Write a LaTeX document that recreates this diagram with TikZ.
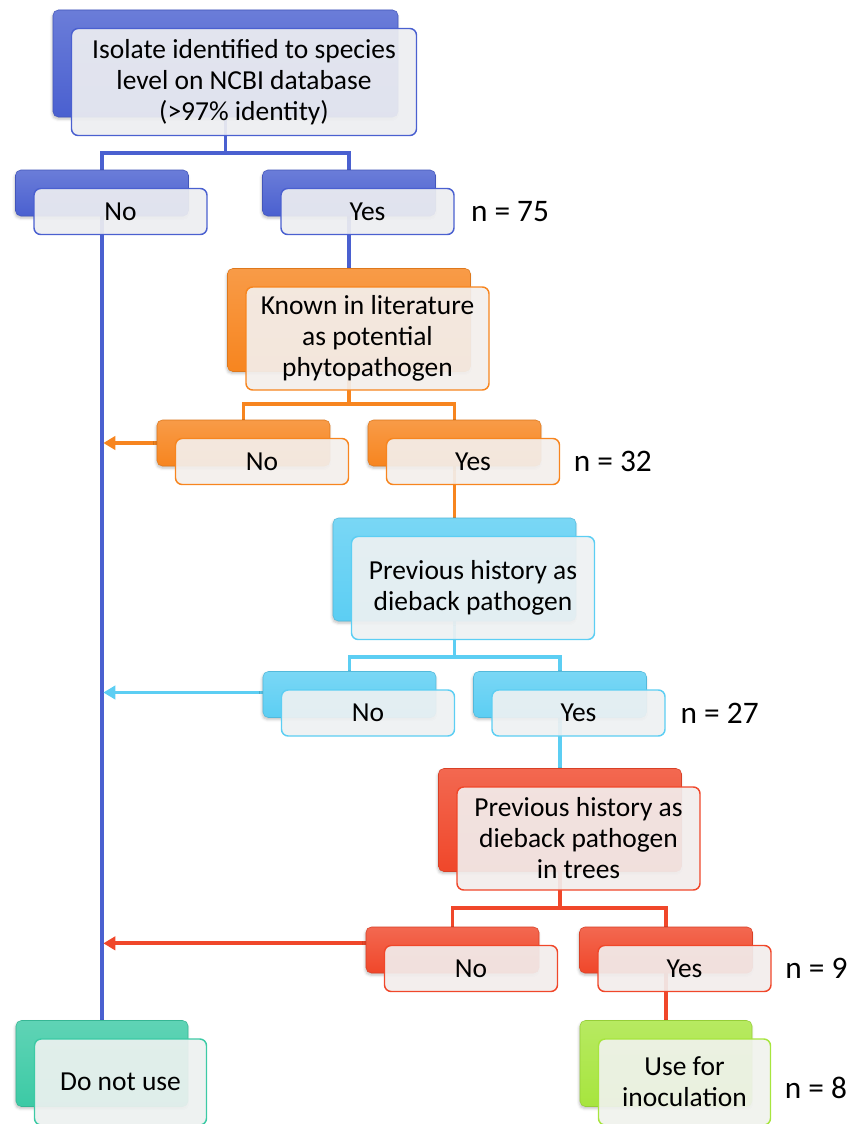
\documentclass[tikz,border=0pt]{standalone}
\usepackage{fontspec}
\setmainfont{Carlito}
\usepackage{xcolor}
\usetikzlibrary{arrows.meta, positioning, backgrounds, shadows.blur}
\definecolor{stepblue}{HTML}{4A60D0}
\definecolor{steporange}{HTML}{F7851F}
\definecolor{stepcyan}{HTML}{5CCEF3}
\definecolor{stepred}{HTML}{F0472A}
\definecolor{stepteal}{HTML}{3CCAA5}
\definecolor{stepgreen}{HTML}{A7E53E}
\newcommand\boxfont{\fontsize{20.6}{23.25}\selectfont}
\newcommand\countfont{\fontsize{23.5}{26}\selectfont}

\tikzset{
  backbox/.style={rounded corners=4pt, draw=#1!90!black, line width=0.4pt,
    top color=#1!82!white, bottom color=#1,
    blur shadow={shadow xshift=-0.5pt, shadow yshift=-1.5pt,
                 shadow blur radius=2pt, shadow opacity=25}},
  frontbox/.style={rounded corners=5pt, draw=#1, line width=1.1pt,
    fill=#1!40!black!8!white, fill opacity=0.92, text opacity=1,
    align=center, font=\boxfont},
  bigbox/.style={minimum width=258.75pt, minimum height=80.25pt, inner sep=0pt},
  midbox/.style={minimum width=182.25pt, minimum height=77.25pt, inner sep=0pt},
  smallbox/.style={minimum width=129.75pt, minimum height=34.5pt, inner sep=0pt},
  endbox/.style={minimum width=129pt, minimum height=64.5pt, inner sep=0pt},
  link/.style={draw=#1, line width=2.8pt},
  tip/.style={-{Triangle[length=9pt, width=10pt]}, shorten >=1pt},
  count/.style={font=\countfont, inner sep=2pt}
}

\begin{document}
\begin{tikzpicture}[x=0.75pt, y=-0.75pt]
  \useasboundingbox (0,0) rectangle (852,1124);

  % question boxes
  \node[backbox=stepblue, bigbox] (q1-b) at (225.5,63.5) {};
  \node[frontbox=stepblue, bigbox] (q1) at ([shift={(18.5,18.5)}]q1-b)
    {Isolate identified to species\\level on NCBI database\\(>97\% identity)};
  \node[backbox=steporange, midbox] (q2-b) at (349,320) {};
  \node[frontbox=steporange, midbox] (q2) at ([shift={(18.5,18.5)}]q2-b)
    {Known in literature\\as potential\\phytopathogen};
  \node[backbox=stepcyan, midbox] (q3-b) at (454.5,569.5) {};
  \node[frontbox=stepcyan, midbox] (q3) at ([shift={(18.5,18.5)}]q3-b)
    {Previous history as\\dieback pathogen};
  \node[backbox=stepred, midbox] (q4-b) at (560,820) {};
  \node[frontbox=stepred, midbox] (q4) at ([shift={(18.5,18.5)}]q4-b)
    {Previous history as\\dieback pathogen\\in trees};

  % answers
  \foreach \nm/\col/\x/\y/\txt in {n1/stepblue/102/193/No, y1/stepblue/349/193/Yes,
      n2/steporange/243.5/443/No, y2/steporange/454.5/443/Yes,
      n3/stepcyan/349.5/694.5/No, y3/stepcyan/560/694.5/Yes,
      n4/stepred/452.5/950/No, y4/stepred/666/950/Yes}{
    \node[backbox=\col, smallbox] (\nm-b) at (\x,\y) {};
    \node[frontbox=\col, smallbox] (\nm) at ([shift={(18.5,18.5)}]\nm-b) {\txt};
  }

  % outcomes
  \node[backbox=stepteal, endbox] (skip-b) at (102,1063.5) {};
  \node[frontbox=stepteal, endbox] (skip) at ([shift={(18.5,18.5)}]skip-b) {Do not use};
  \node[backbox=stepgreen, endbox] (use-b) at (666,1063.5) {};
  \node[frontbox=stepgreen, endbox] (use) at ([shift={(18.5,18.5)}]use-b)
    {Use for\\inoculation};

  \node[count, anchor=west, right=10pt of y1] (c1) {n = 75};
  \node[count, anchor=west, right=8pt of y2] (c2) {n = 32};
  \node[count, anchor=west, right=9pt of y3] (c3) {n = 27};
  \node[count, anchor=west, right=8pt of y4] (c4) {n = 9};
  \node[count, anchor=west, right=8pt of use, yshift=-4.5pt] (c5) {n = 8};

  \begin{scope}[on background layer]
    \draw[link=stepblue] (q1-b.south) -- ++(0,36) coordinate (j1);
    \draw[link=stepblue] (n1-b.north) |- (j1) -| (y1-b.north);
    \draw[link=stepblue] (n1-b.south) -- (skip-b.north);
    \draw[link=stepblue] (y1-b.south) -- (q2-b.north);

    \draw[link=steporange] (q2-b.south) -- ++(0,32) coordinate (j2);
    \draw[link=steporange] (n2-b.north) |- (j2) -| (y2-b.north);
    \draw[link=steporange, tip] (n2-b.west) -- (n2-b.west -| n1-b.south);
    \draw[link=steporange] (y2-b.south) -- (q3-b.north);

    \draw[link=stepcyan] (q3-b.south) -- ++(0,36) coordinate (j3);
    \draw[link=stepcyan] (n3-b.north) |- (j3) -| (y3-b.north);
    \draw[link=stepcyan, tip] ([yshift=1.5pt]n3-b.west) -- ([yshift=1.5pt]n3-b.west -| n1-b.south);
    \draw[link=stepcyan] (y3-b.south) -- (q4-b.north);

    \draw[link=stepred] (q4-b.south) -- ++(0,36) coordinate (j4);
    \draw[link=stepred] (n4-b.north) |- (j4) -| (y4-b.north);
    \draw[link=stepred, tip] ([yshift=5pt]n4-b.west) -- ([yshift=5pt]n4-b.west -| n1-b.south);
    \draw[link=stepred] (y4-b.south) -- (use-b.north);
  \end{scope}
\end{tikzpicture}
\end{document}
